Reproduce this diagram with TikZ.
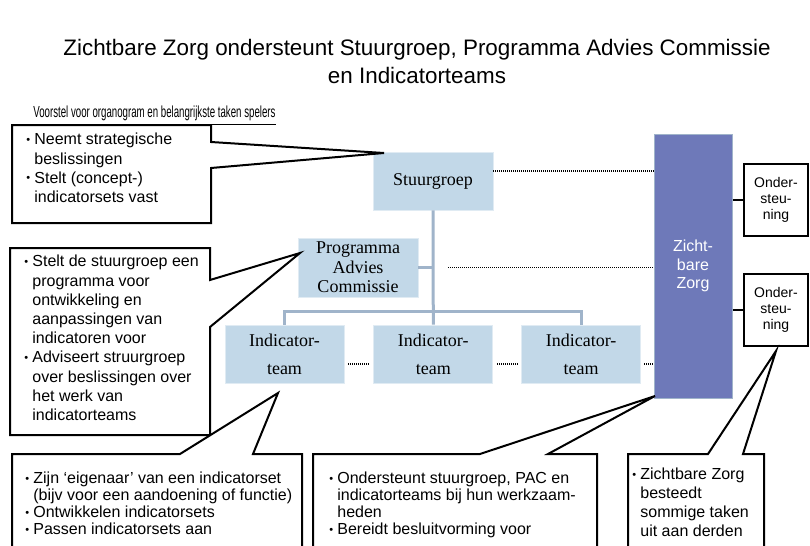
\documentclass[tikz,border=0pt]{standalone}
\usepackage{fontspec}
\setmainfont{Liberation Sans}
\newfontfamily\serf{Liberation Serif}
\usetikzlibrary{positioning}

\definecolor{boxblue}{RGB}{194,216,232}
\definecolor{linkblue}{RGB}{160,180,202}
\definecolor{zzblue}{RGB}{110,121,185}

% bullet with hanging text
\newcommand\bul{\makebox[4pt][l]{\raisebox{0.6pt}{\fontsize{5.5}{5.5}\selectfont\textbullet}}}
\newcommand\hang{\hspace*{4pt}}

\begin{document}
\begin{tikzpicture}[
  x=0.5pt, y=-0.5pt,
  font=\fontsize{8}{9.5}\selectfont,
  org/.style={fill=boxblue, draw=boxblue!50!white, line width=0.4pt, minimum width=60pt, minimum height=29pt, align=center, inner sep=1pt, font=\serf\fontsize{9}{9.75}\selectfont},
  team/.style={org, minimum width=59.5pt, font=\serf\fontsize{9}{14}\selectfont},
  support/.style={draw, line width=1pt, minimum width=32pt, minimum height=36pt, align=center, inner sep=1pt, font=\fontsize{7}{8}\selectfont},
  link/.style={draw=linkblue, line width=1.5pt},
  dotline/.style={dash pattern=on 0.5pt off 0.5pt, line width=0.7pt},
  callout/.style={draw, fill=white, line width=1pt, line join=miter},
  note/.style={anchor=north west, inner sep=0pt, align=left}
]
\useasboundingbox (0,0) rectangle (810,546);
\clip (0,0) rectangle (810,546);

\node[align=center, font=\fontsize{11.2}{13.6}\selectfont] (title) at (417,61.5)
  {Zichtbare Zorg ondersteunt Stuurgroep, Programma Advies Commissie\\en Indicatorteams};
\node[anchor=base west, inner sep=0pt, font=\fontsize{8}{8.5}\selectfont] (sub) at (33,118)
  {\scalebox{0.605}[1]{\underline{Voorstel voor organogram en belangrijkste taken spelers}}};

% organogram
\node[org] (sg) at (433,181) {Stuurgroep};
\node[org, minimum height=29.5pt] (pac) at (358,267.5) {Programma\\Advies\\Commissie};
\node[team] (it1) at (284.5,354) {Indicator-\\team};
\node[team, right=14.5pt of it1] (it2) {Indicator-\\team};
\node[team, right=14pt of it2] (it3) {Indicator-\\team};
\node[fill=zzblue, draw=linkblue, line width=0.5pt, minimum width=39pt, minimum height=132pt,
  align=center, text=white, font=\fontsize{8}{9.3}\selectfont] (zz) at (693,266) {Zicht-\\bare\\Zorg};
\node[support] (ond1) at (776,200) {Onder-\\steu-\\ning};
\node[support] (ond2) at (776,310) {Onder-\\steu-\\ning};

\draw[link] (sg.south) -- (it2.north);
\draw[link] (it1.north) -- ++(0,-13) -| (it3.north);
\draw[link] (pac.east) -- (pac.east -| sg.south);

\draw[dotline] ([yshift=5pt]sg.east) -- ([yshift=5pt]sg.east -| zz.west);
\draw[dotline] ([xshift=7.5pt]pac.east -| sg.south) -- (pac.east -| zz.west);
\draw[dotline] ([xshift=2pt,yshift=-5pt]it1.east) -- ([xshift=-1.5pt,yshift=-5pt]it2.west);
\draw[dotline] ([xshift=2pt,yshift=-5pt]it2.east) -- ([xshift=-1.5pt,yshift=-5pt]it3.west);
\draw[dotline] ([xshift=1.5pt,yshift=-5pt]it3.east) -- ([yshift=-5pt]it3.east -| zz.west);

\draw[line width=1pt] (zz.east |- ond1.west) -- (ond1.west);
\draw[line width=1pt] (zz.east |- ond2.west) -- (ond2.west);

% callouts
\draw[callout] (12,125) -- (211,125) -- (211,142) -- (384,153) -- (211,168) -- (211,223) -- (12,223) -- cycle;
\node[note, font=\fontsize{8}{9.55}\selectfont] (t1) at (26,133)
  {\bul Neemt strategische\\\hang beslissingen\\\bul Stelt (concept-)\\\hang indicatorsets vast};

\draw[callout] (10,248) -- (210,248) -- (210,280) -- (300,253) -- (210,327) -- (210,435) -- (10,435) -- cycle;
\node[note, font=\fontsize{8}{9.6}\selectfont] (t2) at (24,255)
  {\bul Stelt de stuurgroep een\\\hang programma voor\\\hang ontwikkeling en\\\hang aanpassingen van\\\hang indicatoren voor\\
   \bul Adviseert struurgroep\\\hang over beslissingen over\\\hang het werk van\\\hang indicatorteams};

\draw[callout] (12,560) -- (12,454) -- (180,454) -- (278,393) -- (253,454) -- (302,454) -- (302,560) -- cycle;
\node[note, font=\fontsize{8}{8.4}\selectfont] (t3) at (25,472)
  {\bul Zijn ‘eigenaar’ van een indicatorset\\\hang (bijv voor een aandoening of functie)\\\bul Ontwikkelen indicatorsets\\\bul Passen indicatorsets aan};

\draw[callout] (313,560) -- (313,454) -- (480,454) -- (655,396) -- (548,454) -- (597,454) -- (597,560) -- cycle;
\node[note, font=\fontsize{8}{8.4}\selectfont] (t4) at (329,472)
  {\bul Ondersteunt stuurgroep, PAC en\\\hang indicatorteams bij hun werkzaam-\\\hang heden\\\bul Bereidt besluitvorming voor};

\draw[callout] (628,560) -- (628,454) -- (708,454) -- (776,351) -- (743,454) -- (764,454) -- (764,560) -- cycle;
\node[note, font=\fontsize{8}{9.35}\selectfont] (t5) at (632,468)
  {\bul Zichtbare Zorg\\\hang besteedt\\\hang sommige taken\\\hang uit aan derden};
\end{tikzpicture}
\end{document}
